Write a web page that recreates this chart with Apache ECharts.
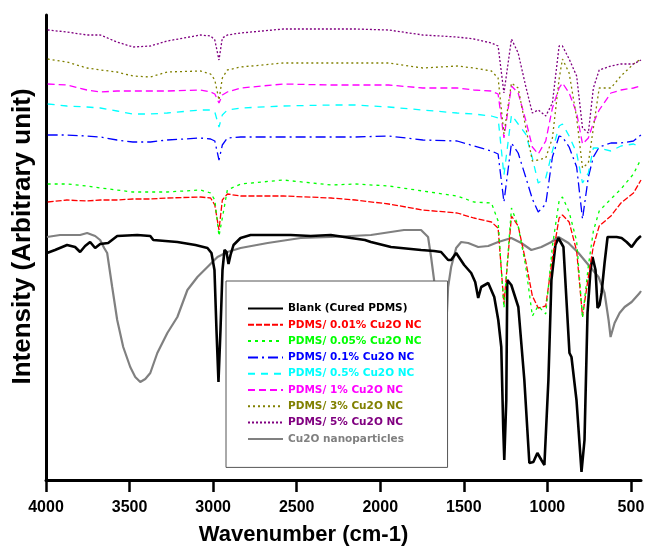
<!DOCTYPE html>
<html>
<head>
<meta charset="utf-8">
<title>FTIR spectra - PDMS / Cu2O</title>
<script src="https://cdn.jsdelivr.net/npm/echarts@6/dist/echarts.min.js"></script>
<style>
  html, body { margin: 0; padding: 0; background: #fff; }
  #chart { width: 646px; height: 548px; }
</style>
</head>
<body>
<div id="chart"></div>
<script>
// x tick labels (wavenumber, cm-1)
const xTicks = [4000, 3500, 3000, 2500, 2000, 1500, 1000, 500];

// Blank (cured PDMS)
const wnBlank = [3994, 3946, 3874, 3826, 3796, 3766, 3736, 3706, 3676, 3628, 3574, 3454, 3376, 3358, 3214, 3106, 3034, 3010, 2992, 2980,
  2968, 2956, 2944, 2932, 2920, 2908, 2896, 2878, 2836, 2776, 2536, 2416, 2296, 2176, 2092, 2056, 1936, 1756, 1678, 1636,
  1594, 1576, 1546, 1498, 1456, 1432, 1414, 1396, 1354, 1318, 1294, 1276, 1264, 1258, 1246, 1240, 1216, 1174, 1138, 1108,
  1084, 1060, 1036, 1018, 994, 976, 952, 934, 904, 886, 868, 856, 826, 796, 778, 760, 742, 730, 712, 700,
  688, 676, 658, 640, 586, 556, 526, 496, 466, 448, 440];
const blank = [227, 230, 235, 233, 228, 234, 238, 232, 236, 237, 244, 245, 244, 240, 238, 235, 232, 227, 210, 150,
  98, 150, 210, 230, 228, 216, 225, 235, 242, 245, 245, 244, 245, 242, 240, 238, 233, 230, 229, 228,
  220, 220, 227, 215, 207, 198, 182, 193, 197, 183, 160, 133, 50, 20, 80, 200, 195, 173, 100, 17,
  18, 27, 20, 15, 100, 200, 235, 242, 233, 180, 127, 123, 80, 8, 40, 167, 210, 223, 210, 172,
  175, 187, 217, 243, 243, 242, 238, 233, 240, 243, 244];

// Cu2O nanoparticles
const wnCu2O = [3994, 3916, 3796, 3754, 3706, 3676, 3652, 3634, 3604, 3574, 3538, 3496, 3466, 3436, 3406, 3376, 3334, 3274, 3214, 3154,
  3094, 3034, 2974, 2914, 2836, 2674, 2476, 2296, 2056, 1858, 1756, 1714, 1696, 1678, 1660, 1636, 1606, 1594, 1576, 1546,
  1516, 1474, 1414, 1354, 1294, 1216, 1156, 1096, 1036, 976, 934, 874, 814, 754, 694, 658, 634, 622, 598, 568,
  538, 496, 448, 440];
const cu2o = [243, 245, 245, 247, 244, 240, 232, 227, 193, 160, 133, 113, 103, 98, 101, 107, 127, 147, 163, 190,
  203, 213, 223, 228, 232, 237, 242, 243, 245, 250, 250, 243, 223, 200, 160, 120, 150, 193, 213, 232,
  238, 237, 233, 234, 238, 242, 237, 230, 233, 238, 243, 237, 227, 215, 203, 187, 160, 143, 157, 167,
  173, 178, 187, 189];

// PDMS / Cu2O nanocomposite films (offset spectra, shared wavenumber grid)
const wnFilm = [3990, 3875, 3755, 3675, 3575, 3480, 3375, 3275, 3075, 3015, 2990, 2965, 2945, 2915, 2835, 2580, 2295, 2150, 1950, 1745,
  1540, 1440, 1335, 1295, 1260, 1215, 1175, 1130, 1090, 1055, 1010, 970, 930, 910, 870, 825, 790, 755, 725, 690,
  620, 560, 485, 440];
const film001 = [278, 280, 279, 280, 280, 281, 281, 282, 283, 282, 275, 250, 280, 286, 284, 284, 282, 280, 276, 270,
  267, 262, 258, 252, 176, 264, 254, 219, 184, 172, 174, 222, 262, 265, 258, 229, 164, 203, 234, 254,
  264, 277, 287, 300];
const film005 = [296, 296, 294, 292, 290, 288, 288, 288, 290, 287, 280, 244, 262, 290, 296, 300, 295, 296, 294, 289,
  284, 278, 277, 259, 172, 272, 254, 214, 164, 174, 166, 234, 279, 283, 268, 239, 162, 214, 249, 269,
  281, 291, 306, 321];
const film01 = [345, 345, 344, 343, 340, 338, 338, 340, 342, 341, 339, 320, 335, 342, 343, 343, 343, 343, 344, 340,
  339, 334, 329, 326, 278, 337, 327, 303, 281, 268, 276, 323, 344, 343, 333, 313, 261, 303, 323, 333,
  337, 337, 339, 345];
const film05 = [376, 374, 373, 372, 369, 366, 366, 367, 370, 370, 368, 353, 365, 370, 372, 374, 375, 375, 373, 370,
  367, 366, 364, 362, 305, 365, 356, 346, 322, 297, 302, 329, 354, 356, 344, 327, 297, 307, 332, 332,
  329, 334, 336, 333];
const film1 = [396, 395, 390, 388, 389, 389, 389, 389, 390, 388, 386, 377, 385, 388, 392, 396, 395, 395, 395, 392,
  392, 390, 389, 386, 342, 394, 387, 360, 333, 326, 339, 372, 392, 397, 387, 367, 336, 342, 357, 370,
  387, 390, 392, 394];
const film3 = [421, 418, 412, 410, 408, 404, 403, 408, 409, 406, 400, 380, 402, 410, 413, 417, 417, 417, 417, 412,
  414, 412, 409, 402, 346, 397, 392, 353, 319, 320, 322, 342, 401, 421, 407, 362, 312, 317, 352, 392,
  392, 404, 416, 421];
const film5 = [450, 448, 445, 445, 438, 433, 434, 439, 445, 444, 440, 420, 442, 445, 447, 451, 451, 451, 450, 445,
  443, 441, 437, 434, 387, 441, 427, 394, 367, 370, 364, 377, 434, 434, 421, 404, 352, 347, 392, 410,
  414, 416, 416, 420];

const legendOrder = [
  'Blank (Cured PDMS)', 'PDMS/ 0.01% Cu2O NC', 'PDMS/ 0.05% Cu2O NC', 'PDMS/ 0.1% Cu2O NC',
  'PDMS/ 0.5% Cu2O NC', 'PDMS/ 1% Cu2O NC', 'PDMS/ 3% Cu2O NC', 'PDMS/ 5% Cu2O NC', 'Cu2O nanoparticles'
];

// 把波数和强度配对
function zip(wn, vals) {
  return wn.map((w, i) => [w, vals[i]]);
}

const seriesDefs = [
  { name: 'Cu2O nanoparticles', wn: wnCu2O, vals: cu2o, color: '#808080', width: 2.2, dash: 'solid' },
  { name: 'Blank (Cured PDMS)', wn: wnBlank, vals: blank, color: '#000000', width: 2.6, dash: 'solid' },
  { name: 'PDMS/ 0.01% Cu2O NC', wn: wnFilm, vals: film001, color: '#ff0000', width: 1.3, dash: [6, 2] },
  { name: 'PDMS/ 0.05% Cu2O NC', wn: wnFilm, vals: film005, color: '#00ff00', width: 1.3, dash: [3, 4] },
  { name: 'PDMS/ 0.1% Cu2O NC', wn: wnFilm, vals: film01, color: '#0000ff', width: 1.3, dash: [10, 4, 2, 4] },
  { name: 'PDMS/ 0.5% Cu2O NC', wn: wnFilm, vals: film05, color: '#00ffff', width: 1.3, dash: [7, 6] },
  { name: 'PDMS/ 1% Cu2O NC', wn: wnFilm, vals: film1, color: '#ff00ff', width: 1.3, dash: [7, 4] },
  { name: 'PDMS/ 3% Cu2O NC', wn: wnFilm, vals: film3, color: '#808000', width: 1.3, dash: [2, 3] },
  { name: 'PDMS/ 5% Cu2O NC', wn: wnFilm, vals: film5, color: '#800080', width: 1.3, dash: [2, 2] }
];

const colorOf = {};
seriesDefs.forEach(d => { colorOf[d.name] = d.color; });

const chart = echarts.init(document.getElementById('chart'), null, { renderer: 'canvas' });

chart.setOption({
  animation: false,
  backgroundColor: '#fff',
  grid: { left: 46, right: 5, top: 15, bottom: 68, containLabel: false, outerBoundsMode: 'none' },
  xAxis: {
    type: 'value',
    inverse: true,
    min: 440,
    max: 4000,
    name: 'Wavenumber (cm-1)',
    nameLocation: 'middle',
    nameGap: 44,
    nameTextStyle: {
      fontFamily: 'Liberation Sans, Arial, sans-serif',
      fontWeight: 'bold',
      fontSize: 22,
      color: '#000',
      padding: [0, 80, 0, 0]
    },
    axisLine: { onZero: false, lineStyle: { color: '#000', width: 3 } },
    axisTick: { show: true, length: 12, inside: false, customValues: xTicks, lineStyle: { color: '#000', width: 2.5 } },
    axisLabel: {
      customValues: xTicks,
      formatter: v => String(v),
      margin: 20,
      fontFamily: 'Liberation Sans, Arial, sans-serif',
      fontWeight: 'bold',
      fontSize: 16,
      color: '#000'
    },
    splitLine: { show: false }
  },
  yAxis: {
    type: 'value',
    min: 0,
    max: 465,
    name: 'Intensity (Arbitrary unit)',
    nameLocation: 'middle',
    nameRotate: 90,
    nameGap: 10,
    nameTextStyle: {
      fontFamily: 'Liberation Sans, Arial, sans-serif',
      fontWeight: 'bold',
      fontSize: 26,
      color: '#000',
      padding: [0, 0, 0, 22]
    },
    axisLine: { show: true, lineStyle: { color: '#000', width: 3 } },
    axisTick: { show: false },
    axisLabel: { show: false },
    splitLine: { show: false }
  },
  legend: {
    orient: 'vertical',
    left: 226,
    top: 281,
    padding: [22, 26, 23, 21],
    itemWidth: 35,
    itemHeight: 12,
    itemGap: 5.3,
    backgroundColor: '#fff',
    borderColor: '#555',
    borderWidth: 1,
    borderRadius: 0,
    z: 10,
    itemStyle: { opacity: 0 },
    textStyle: {
      fontFamily: 'DejaVu Sans, sans-serif',
      fontWeight: 'bold',
      fontSize: 10.5
    },
    data: legendOrder.map(name => ({ name: name, textStyle: { color: colorOf[name] } }))
  },
  series: seriesDefs.map(d => ({
    name: d.name,
    type: 'line',
    data: zip(d.wn, d.vals),
    symbol: 'none',
    smooth: false,
    color: d.color,
    lineStyle: { color: d.color, width: d.width, type: d.dash }
  }))
});
</script>
</body>
</html>
